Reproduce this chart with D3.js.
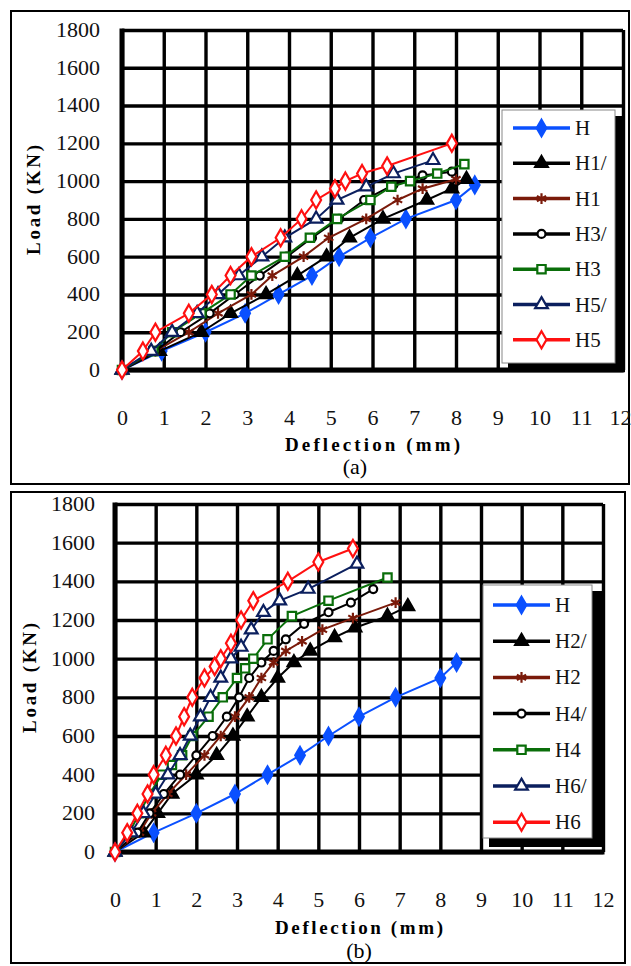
<!DOCTYPE html>
<html><head><meta charset="utf-8">
<script src="https://cdn.jsdelivr.net/npm/d3@7"></script>
<style>body{margin:0;background:#fff}svg{display:block}</style>
</head><body>
<svg id="c" width="631" height="966"></svg>
<script>
// ---------- DATA ----------
const xTicks = [0,1,2,3,4,5,6,7,8,9,10,11,12];
const yTicks = [0,200,400,600,800,1000,1200,1400,1600,1800];

// Panel (a)
const a_H_x   = [0,0.95,2.0,2.95,3.75,4.55,5.2,5.95,6.8,8.0,8.45];
const a_H_y   = [0,100,200,300,400,500,600,700,800,900,980];
const a_H1s_x = [0,0.9,1.9,2.6,3.45,4.2,4.9,5.45,6.25,7.3,7.9,8.25];
const a_H1s_y = [0,100,200,300,400,500,600,700,800,900,960,1010];
const a_H1_x  = [0,0.8,1.6,2.3,3.1,3.6,4.35,4.95,5.85,6.6,7.2,8.0];
const a_H1_y  = [0,100,200,300,400,500,600,700,800,900,960,1010];
const a_H3s_x = [0,0.8,1.4,2.1,2.7,3.3,3.95,4.55,5.2,5.8,6.5,7.2,7.9];
const a_H3s_y = [0,100,200,300,400,500,600,700,800,900,980,1030,1050];
const a_H3_x  = [0,0.75,1.2,1.9,2.6,3.1,3.9,4.5,5.15,5.95,6.45,6.9,7.55,8.2];
const a_H3_y  = [0,100,200,300,400,500,600,700,800,900,970,1000,1040,1090];
const a_H5s_x = [0,0.7,1.2,1.8,2.3,2.8,3.35,3.9,4.65,5.15,5.85,6.5,7.45];
const a_H5s_y = [0,100,200,300,400,500,600,700,800,900,970,1040,1110];
const a_H5_x  = [0,0.5,0.8,1.6,2.15,2.6,3.1,3.8,4.3,4.65,5.1,5.35,5.75,6.35,7.9];
const a_H5_y  = [0,100,200,300,400,500,600,700,800,900,960,1000,1040,1080,1200];

// Panel (b)
const b_H_x   = [0,0.95,2.0,2.95,3.75,4.55,5.25,6.0,6.9,8.0,8.4];
const b_H_y   = [0,100,200,300,400,500,600,700,800,900,980];
const b_H2s_x = [0,0.7,1.05,1.4,2.0,2.5,2.9,3.25,3.6,4.0,4.4,4.8,5.4,5.9,6.7,7.2];
const b_H2s_y = [0,100,200,300,400,500,600,700,800,900,980,1040,1110,1160,1220,1270];
const b_H2_x  = [0,0.6,0.9,1.3,1.75,2.2,2.6,2.95,3.3,3.6,3.9,4.2,4.6,5.1,5.85,6.9];
const b_H2_y  = [0,100,200,300,400,500,600,700,800,900,980,1040,1090,1150,1210,1290];
const b_H4s_x = [0,0.55,0.85,1.2,1.6,2.0,2.4,2.75,3.05,3.3,3.6,3.9,4.2,4.65,5.25,5.8,6.35];
const b_H4s_y = [0,100,200,300,400,500,600,700,800,900,980,1040,1100,1180,1240,1290,1360];
const b_H4_x  = [0,0.35,0.6,0.85,1.15,1.4,1.65,1.9,2.3,2.65,3.0,3.2,3.4,3.75,4.35,5.25,6.7];
const b_H4_y  = [0,100,200,300,400,450,500,600,700,800,900,950,1000,1100,1220,1300,1420];
const b_H6s_x = [0,0.4,0.7,1.0,1.3,1.6,1.85,2.1,2.35,2.6,2.85,3.1,3.35,3.65,4.05,4.75,5.95];
const b_H6s_y = [0,100,200,300,400,500,600,700,800,900,1000,1060,1150,1240,1300,1360,1490];
const b_H6_x  = [0,0.3,0.55,0.8,0.95,1.25,1.5,1.7,1.9,2.2,2.45,2.6,2.85,3.1,3.4,4.25,5.0,5.85];
const b_H6_y  = [0,100,200,300,400,500,600,700,800,900,960,1000,1080,1200,1300,1400,1500,1570];

const namesA = ["H","H1/","H1","H3/","H3","H5/","H5"];
const namesB = ["H","H2/","H2","H4/","H4","H6/","H6"];
const seriesA = [[a_H_x,a_H_y],[a_H1s_x,a_H1s_y],[a_H1_x,a_H1_y],[a_H3s_x,a_H3s_y],[a_H3_x,a_H3_y],[a_H5s_x,a_H5s_y],[a_H5_x,a_H5_y]];
const seriesB = [[b_H_x,b_H_y],[b_H2s_x,b_H2s_y],[b_H2_x,b_H2_y],[b_H4s_x,b_H4s_y],[b_H4_x,b_H4_y],[b_H6s_x,b_H6s_y],[b_H6_x,b_H6_y]];

// ---------- STYLE ----------
const styles = [
  {color:"#0a50ff", sym:d3.symbolDiamond, size:80, fill:"#0a50ff"},
  {color:"#000000", sym:d3.symbolTriangle, size:70, fill:"#000000"},
  {color:"#7a1a0a", sym:d3.symbolAsterisk, size:80, fill:"none"},
  {color:"#000000", sym:d3.symbolCircle, size:50, fill:"#ffffff"},
  {color:"#0a6e0a", sym:d3.symbolSquare, size:70, fill:"#ffffff"},
  {color:"#0b1f5e", sym:d3.symbolTriangle, size:70, fill:"#ffffff"},
  {color:"#ff1010", sym:d3.symbolDiamond, size:85, fill:"#ffffff"}
];
const FONT = "'Liberation Serif','Times New Roman',serif";
const svg = d3.select("#c");

function panel(cfg){
  const {frame, plot, series, names, legend, cap, capX, capY, xTitleY} = cfg;
  svg.append("rect").attr("x",frame[0]).attr("y",frame[1]).attr("width",frame[2]-frame[0]).attr("height",frame[3]-frame[1])
     .attr("fill","none").attr("stroke","#000").attr("stroke-width",2);
  const x = d3.scaleLinear().domain([0,12]).range([plot.l, plot.r]);
  const y = d3.scaleLinear().domain([0,1800]).range([plot.b, plot.t]);
  const g = svg.append("g");
  // grid
  g.append("g").attr("transform",`translate(0,${plot.b})`)
    .call(d3.axisBottom(x).tickValues(xTicks).tickSize(-(plot.b-plot.t)).tickFormat(""))
    .call(s=>{s.select(".domain").remove(); s.selectAll("line").attr("stroke","#000").attr("stroke-width",3.4);});
  g.append("g").attr("transform",`translate(${plot.l},0)`)
    .call(d3.axisLeft(y).tickValues(yTicks).tickSize(-(plot.r-plot.l)).tickFormat(""))
    .call(s=>{s.select(".domain").remove(); s.selectAll("line").attr("stroke","#000").attr("stroke-width",3.4);});
  // axes borders
  g.append("line").attr("x1",plot.l).attr("x2",plot.l).attr("y1",plot.t-1.5).attr("y2",plot.b+2.5).attr("stroke","#000").attr("stroke-width",5);
  g.append("line").attr("x1",plot.l-2.5).attr("x2",plot.r+1.5).attr("y1",plot.b).attr("y2",plot.b).attr("stroke","#000").attr("stroke-width",5);
  // tick labels
  g.append("g").attr("transform",`translate(0,${plot.b+cfg.xlabOff})`)
    .call(d3.axisBottom(x).tickValues(xTicks).tickSize(0).tickFormat(d3.format("d")))
    .call(s=>{s.select(".domain").remove();
      s.selectAll("text").attr("font-family",FONT).attr("font-size",20).attr("fill","#111")
       .attr("textLength",d=>String(d).length*11).attr("lengthAdjust","spacingAndGlyphs");
      if(cfg.clipLast){ s.selectAll(".tick").filter(d=>d===12).select("text").attr("text-anchor","end").attr("x",631-x(12)); }
    });
  g.append("g").attr("transform",`translate(${plot.l-cfg.ylabOff},0)`)
    .call(d3.axisLeft(y).tickValues(yTicks).tickSize(0).tickFormat(d3.format("d")))
    .call(s=>{s.select(".domain").remove();
      s.selectAll("text").attr("font-family",FONT).attr("font-size",20).attr("fill","#111")
       .attr("textLength",d=>String(d).length*11).attr("lengthAdjust","spacingAndGlyphs");});
  // titles
  svg.append("text").attr("x",(plot.l+plot.r)/2).attr("y",xTitleY).attr("text-anchor","middle")
     .attr("font-family",FONT).attr("font-weight","bold").attr("font-size",19)
     .attr("textLength",cfg.xTitleLen).attr("lengthAdjust","spacing").text("Deflection  (mm)");
  svg.append("text").attr("transform",`translate(${cfg.yTitleX},${(plot.t+plot.b)/2}) rotate(-90)`).attr("text-anchor","middle")
     .attr("font-family",FONT).attr("font-weight","bold").attr("font-size",19)
     .attr("textLength",110).attr("lengthAdjust","spacing").text("Load  (KN)");
  svg.append("text").attr("x",capX).attr("y",capY).attr("text-anchor","middle")
     .attr("font-family",FONT).attr("font-size",22).text(cap);
  // series
  const line = d3.line().x(d=>x(d[0])).y(d=>y(d[1]));
  series.forEach((s,i)=>{
    const st = styles[i];
    const pts = s[0].map((v,k)=>[v, s[1][k]]);
    g.append("path").datum(pts).attr("d",line).attr("fill","none").attr("stroke",st.color).attr("stroke-width",2);
    g.selectAll(null).data(pts).enter().append("path")
      .attr("transform",d=>`translate(${x(d[0])},${y(d[1])})`)
      .attr("d",d3.symbol().type(st.sym).size(st.size))
      .attr("fill",st.fill).attr("stroke",st.color).attr("stroke-width",2.2);
  });
  // legend
  const L = legend;
  svg.append("rect").attr("x",L.x0+6).attr("y",L.y0+6).attr("width",L.x1-L.x0+4).attr("height",L.y1-L.y0+3).attr("fill","#000");
  svg.append("rect").attr("x",L.x0).attr("y",L.y0).attr("width",L.x1-L.x0).attr("height",L.y1-L.y0).attr("fill","#fff").attr("stroke","#888").attr("stroke-width",1);
  names.forEach((n,i)=>{
    const st = styles[i];
    const yy = L.first + i*L.step;
    svg.append("line").attr("x1",L.lx0).attr("x2",L.lx1).attr("y1",yy).attr("y2",yy).attr("stroke",st.color).attr("stroke-width",3.5);
    svg.append("path").attr("transform",`translate(${(L.lx0+L.lx1)/2},${yy})`).attr("d",d3.symbol().type(st.sym).size(st.size))
      .attr("fill",st.fill).attr("stroke",st.color).attr("stroke-width",2.2);
    svg.append("text").attr("x",L.tx).attr("y",yy+7).attr("font-family",FONT).attr("font-size",21).attr("fill","#111").text(n);
  });
}

panel({frame:[11,11,629,484], plot:{l:122,r:623,t:30,b:370}, series:seriesA, names:namesA,
  legend:{x0:502,y0:110,x1:615,y1:363,first:128,step:35.3,lx0:513,lx1:570,tx:575},
  cap:"(a)", capX:355, capY:474, xTitleY:451, yTitleX:40, xlabOff:38, ylabOff:19, xTitleLen:175, clipLast:true});
panel({frame:[11,492,625,963], plot:{l:115,r:603,t:504,b:852}, series:seriesB, names:namesB,
  legend:{x0:483,y0:585,x1:592,y1:838,first:605,step:36.2,lx0:493,lx1:550,tx:555},
  cap:"(b)", capX:359, capY:958, xTitleY:934, yTitleX:36, xlabOff:38, ylabOff:17, xTitleLen:168, clipLast:false});
</script>
</body></html>
